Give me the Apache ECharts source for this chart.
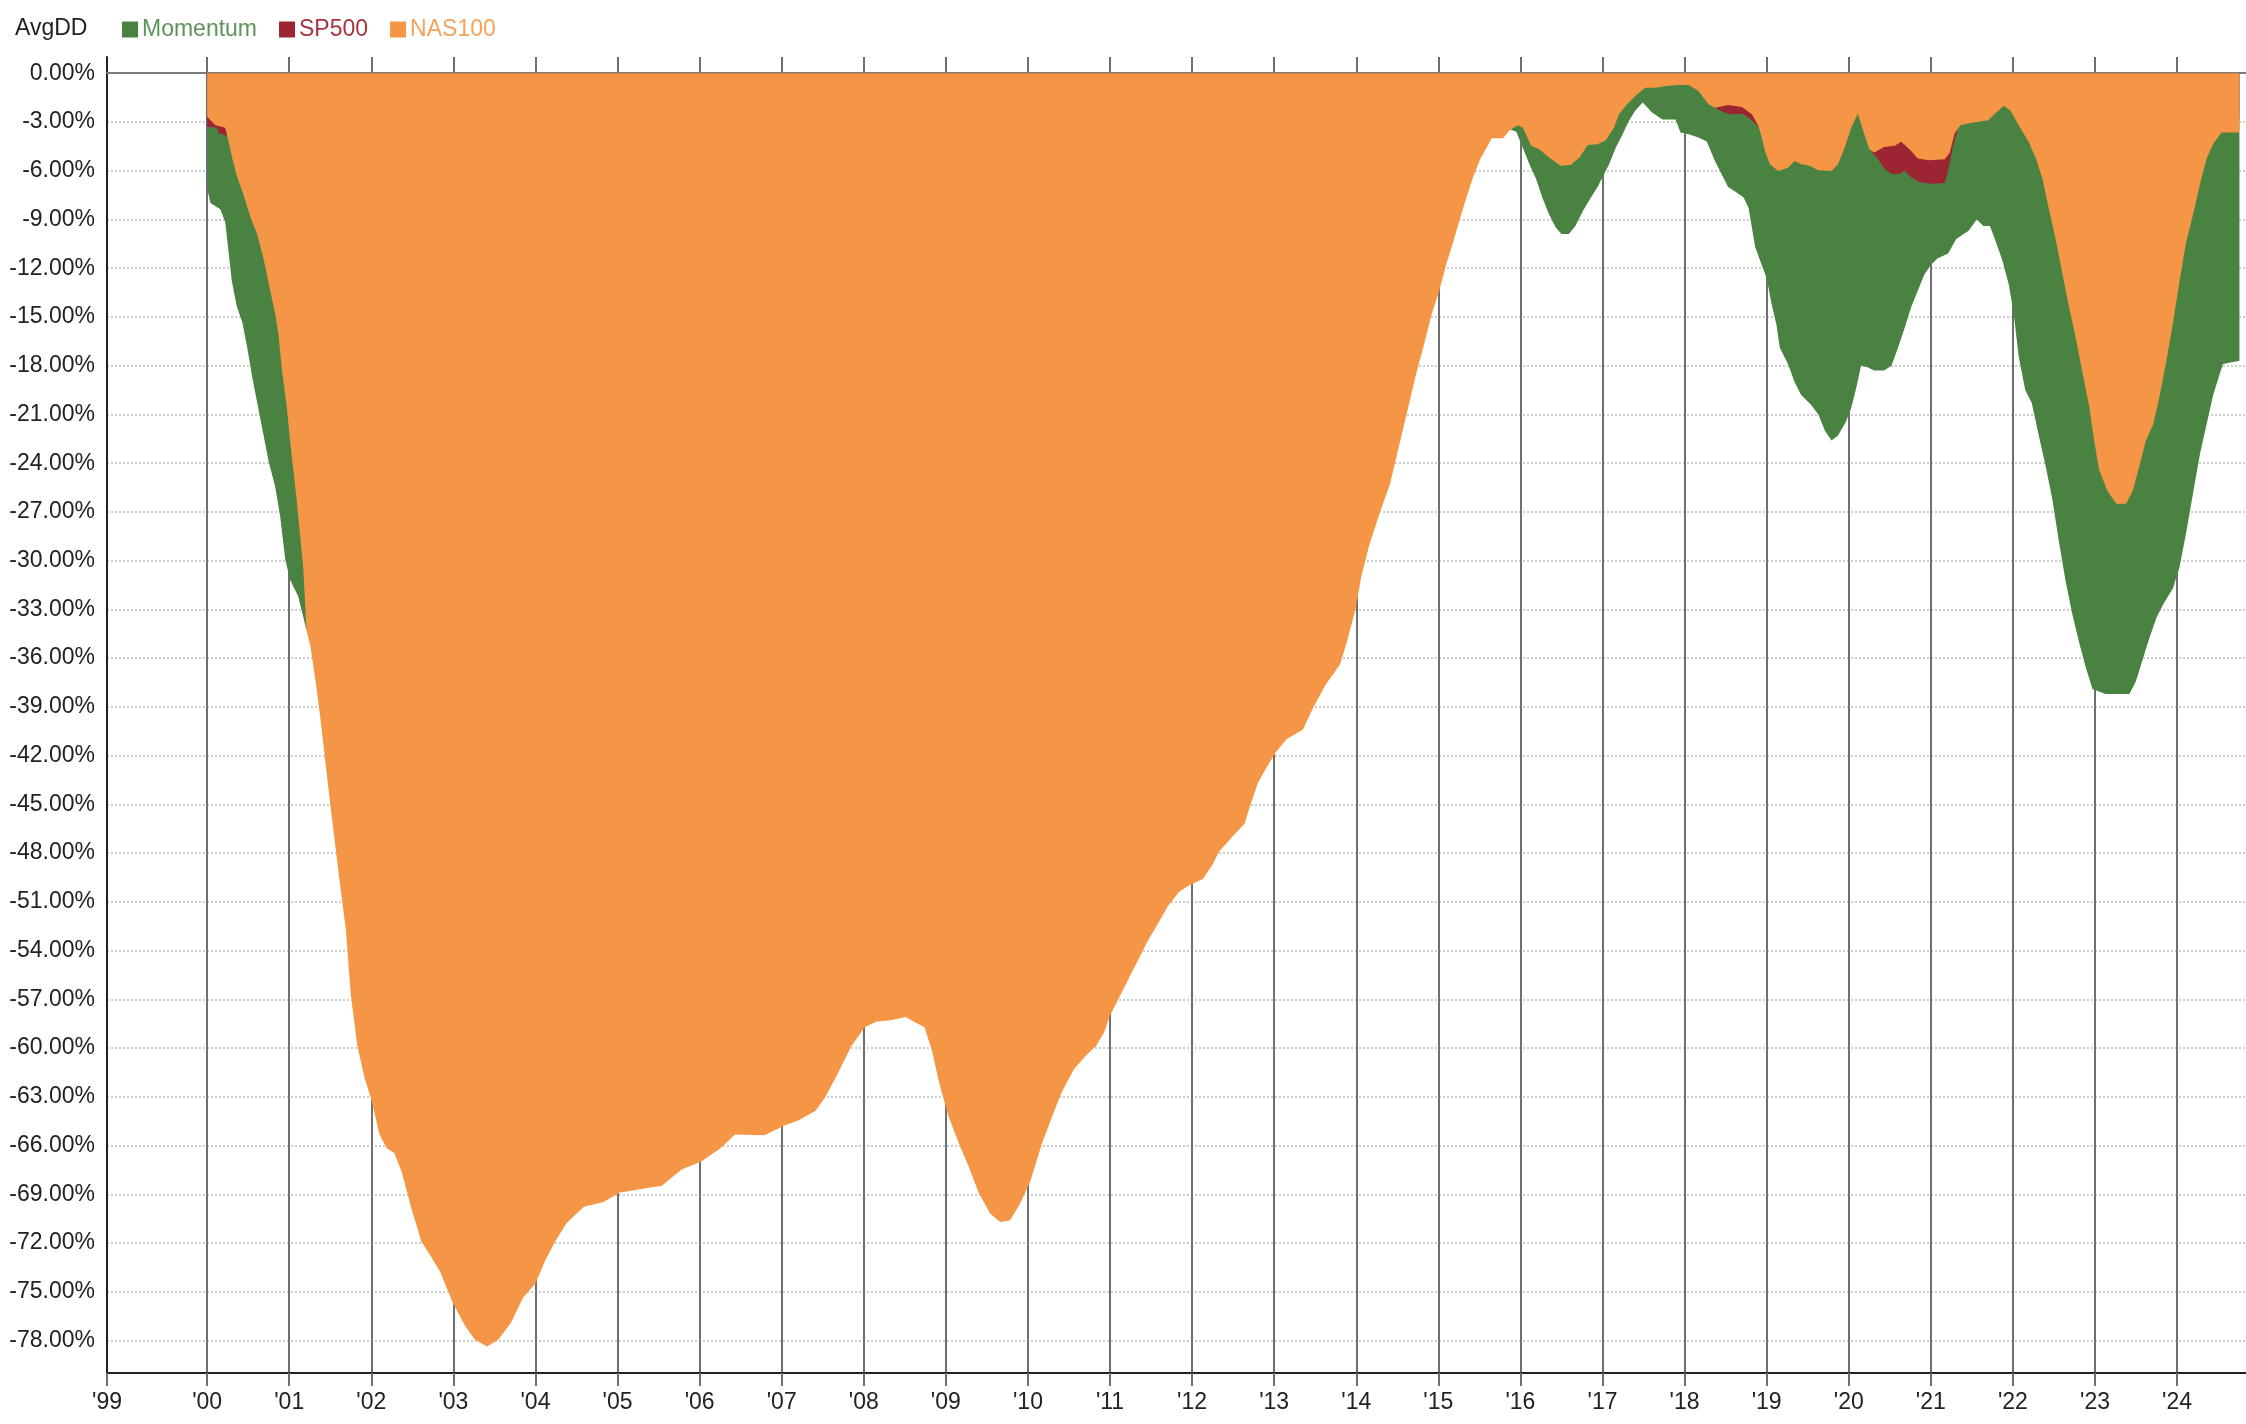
<!DOCTYPE html>
<html>
<head>
<meta charset="utf-8">
<script src="https://cdn.jsdelivr.net/npm/echarts@6/dist/echarts.min.js"></script>
<style>
html,body{margin:0;padding:0;background:#fff;}
#chart{width:2246px;height:1424px;}
</style>
</head>
<body>
<div id="chart"></div>
<script>
// ---- data (decimal year, drawdown %) ----
const seriesNames = ['Momentum', 'SP500', 'NAS100'];
const chartTitle = 'AvgDD';

const momentumData = [
  [2000.00,-7.1],[2000.04,-7.98],[2000.16,-8.37],[2000.22,-9.15],[2000.26,-10.96],[2000.30,-12.77],
  [2000.36,-14.33],[2000.43,-15.36],[2000.49,-16.92],[2000.55,-18.73],[2000.61,-20.28],[2000.67,-21.84],
  [2000.75,-23.91],[2000.83,-25.47],[2000.89,-27.28],[2000.95,-29.87],[2001.01,-31.17],[2001.11,-32.20],
  [2001.21,-34.27],[2001.30,-33.0],[2002.00,-30.0],[2003.00,-28.0],[2005.00,-22.0],[2007.00,-20.0],
  [2008.00,-18.0],[2009.50,-25.0],[2011.00,-15.0],[2012.50,-10.0],[2014.00,-6.0],[2015.00,-4.0],
  [2015.50,-3.0],[2015.75,-3.1],[2015.87,-3.45],[2015.95,-3.6],[2016.03,-4.6],[2016.11,-5.6],
  [2016.19,-6.5],[2016.27,-7.7],[2016.35,-8.7],[2016.43,-9.5],[2016.50,-9.9],[2016.59,-9.9],
  [2016.67,-9.4],[2016.76,-8.5],[2016.84,-7.8],[2016.94,-7.0],[2017.00,-6.4],[2017.08,-5.6],
  [2017.16,-4.6],[2017.24,-3.8],[2017.32,-2.95],[2017.40,-2.3],[2017.49,-1.8],[2017.60,-2.4],
  [2017.73,-2.85],[2017.89,-2.85],[2017.95,-3.65],[2018.05,-3.75],[2018.17,-3.95],[2018.27,-4.2],
  [2018.37,-5.4],[2018.45,-6.2],[2018.53,-7.0],[2018.62,-7.3],[2018.72,-7.65],[2018.78,-8.3],
  [2018.82,-9.5],[2018.86,-10.7],[2018.94,-11.8],[2019.00,-12.6],[2019.06,-14.2],[2019.12,-15.5],
  [2019.16,-16.9],[2019.26,-17.9],[2019.34,-19.0],[2019.42,-19.8],[2019.54,-20.4],[2019.63,-21.0],
  [2019.71,-22.0],[2019.79,-22.6],[2019.87,-22.3],[2019.97,-21.4],[2020.03,-20.6],[2020.09,-19.4],
  [2020.15,-18.0],[2020.23,-18.1],[2020.31,-18.3],[2020.43,-18.3],[2020.52,-18.0],[2020.60,-16.9],
  [2020.68,-15.7],[2020.76,-14.4],[2020.84,-13.4],[2020.92,-12.4],[2021.00,-11.8],[2021.08,-11.4],
  [2021.21,-11.1],[2021.31,-10.2],[2021.46,-9.7],[2021.56,-9.0],[2021.64,-9.4],[2021.72,-9.4],
  [2021.78,-10.2],[2021.87,-11.5],[2021.95,-13.0],[2022.01,-14.8],[2022.07,-17.4],[2022.15,-19.5],
  [2022.23,-20.3],[2022.32,-22.4],[2022.40,-24.2],[2022.48,-26.2],[2022.56,-28.8],[2022.64,-31.2],
  [2022.72,-33.2],[2022.81,-35.1],[2022.89,-36.6],[2022.97,-37.9],[2023.13,-38.2],[2023.42,-38.2],
  [2023.50,-37.4],[2023.58,-36.1],[2023.66,-34.8],[2023.75,-33.5],[2023.83,-32.7],[2023.95,-31.7],
  [2024.03,-30.4],[2024.11,-28.3],[2024.20,-25.7],[2024.28,-23.4],[2024.36,-21.6],[2024.44,-19.8],
  [2024.52,-18.5],[2024.56,-17.9],[2024.76,-17.7]
];

const sp500Data = [
  [2000.00,-3.3],[2000.12,-3.35],[2000.14,-3.7],[2000.22,-3.8],[2000.25,-3.9],[2000.35,-4.5],
  [2000.50,-5.5],[2001.00,-15.0],[2002.00,-30.0],[2003.00,-40.0],[2005.00,-30.0],[2008.00,-20.0],
  [2009.50,-35.0],[2011.00,-15.0],[2013.00,-8.0],[2014.00,-5.0],[2015.00,-3.0],[2015.60,-2.0],
  [2016.50,-3.0],[2017.20,-2.0],[2017.50,-0.6],[2018.00,-0.5],[2018.20,-0.9],[2018.29,-1.7],
  [2018.37,-2.12],[2018.49,-2.43],[2018.57,-2.53],[2018.70,-2.49],[2018.78,-2.73],[2018.86,-3.1],
  [2018.92,-3.4],[2019.10,-4.5],[2019.50,-4.5],[2019.90,-4.0],[2020.03,-2.8],[2020.11,-2.2],
  [2020.19,-3.5],[2020.25,-4.6],[2020.29,-4.9],[2020.35,-5.25],[2020.44,-5.9],[2020.52,-6.2],
  [2020.62,-6.2],[2020.68,-6.0],[2020.76,-6.4],[2020.85,-6.7],[2021.00,-6.8],[2021.17,-6.75],
  [2021.21,-6.0],[2021.27,-4.5],[2021.34,-3.2],[2021.50,-2.8],[2021.78,-2.3],[2021.89,-1.8],
  [2022.07,-2.5],[2022.30,-4.0],[2022.60,-10.0],[2023.00,-18.0],[2023.30,-20.0],[2023.70,-16.0],
  [2024.00,-10.0],[2024.30,-4.0],[2024.50,-2.5],[2024.76,-2.8]
];

const nas100Data = [
  [2000.00,-2.67],[2000.10,-3.2],[2000.22,-3.35],[2000.24,-3.76],[2000.32,-5.52],[2000.36,-6.30],
  [2000.45,-7.59],[2000.53,-8.89],[2000.61,-9.92],[2000.69,-11.48],[2000.77,-13.42],[2000.83,-14.84],
  [2000.87,-16.14],[2000.91,-18.21],[2000.97,-20.54],[2001.01,-22.62],[2001.05,-24.43],[2001.09,-26.24],
  [2001.13,-28.32],[2001.17,-30.39],[2001.21,-34.27],[2001.26,-35.31],[2001.32,-37.38],[2001.38,-39.72],
  [2001.50,-45.0],[2001.63,-50.40],[2001.69,-52.70],[2001.75,-56.71],[2001.83,-59.87],[2001.92,-61.88],
  [2002.00,-63.17],[2002.10,-65.32],[2002.19,-66.18],[2002.28,-66.46],[2002.37,-67.61],[2002.49,-69.91],
  [2002.61,-71.91],[2002.72,-72.77],[2002.84,-73.78],[2002.99,-75.64],[2003.14,-77.07],[2003.26,-77.94],
  [2003.41,-78.37],[2003.55,-77.94],[2003.70,-76.93],[2003.85,-75.35],[2004.00,-74.49],[2004.12,-73.06],
  [2004.24,-71.91],[2004.38,-70.77],[2004.59,-69.76],[2004.83,-69.48],[2005.02,-68.90],[2005.36,-68.61],
  [2005.54,-68.47],[2005.78,-67.47],[2006.02,-66.98],[2006.25,-66.18],[2006.43,-65.32],[2006.79,-65.37],
  [2007.02,-64.80],[2007.20,-64.46],[2007.41,-63.88],[2007.53,-63.02],[2007.68,-61.59],[2007.85,-59.87],
  [2008.01,-58.72],[2008.15,-58.38],[2008.33,-58.29],[2008.51,-58.09],[2008.63,-58.43],[2008.74,-58.72],
  [2008.83,-60.15],[2008.92,-62.16],[2009.03,-64.17],[2009.16,-65.89],[2009.28,-67.32],[2009.40,-68.90],
  [2009.54,-70.19],[2009.66,-70.71],[2009.78,-70.62],[2009.90,-69.62],[2010.03,-68.18],[2010.17,-65.89],
  [2010.32,-63.88],[2010.41,-62.74],[2010.56,-61.30],[2010.71,-60.44],[2010.83,-59.87],[2010.93,-59.01],
  [2011.00,-58.0],[2011.15,-56.5],[2011.30,-55.0],[2011.45,-53.5],[2011.60,-52.2],[2011.70,-51.3],
  [2011.84,-50.4],[2011.96,-50.0],[2012.13,-49.6],[2012.25,-48.7],[2012.33,-47.9],[2012.49,-47.0],
  [2012.64,-46.2],[2012.70,-45.2],[2012.80,-43.7],[2012.90,-42.8],[2013.02,-41.8],[2013.15,-41.0],
  [2013.35,-40.4],[2013.47,-39.1],[2013.63,-37.6],[2013.80,-36.4],[2013.88,-35.1],[2013.99,-33.0],
  [2014.06,-31.0],[2014.16,-29.0],[2014.29,-27.0],[2014.41,-25.3],[2014.49,-23.6],[2014.57,-21.9],
  [2014.65,-20.2],[2014.73,-18.5],[2014.82,-16.8],[2014.92,-14.8],[2015.01,-13.4],[2015.10,-11.7],
  [2015.18,-10.4],[2015.26,-9.0],[2015.34,-7.7],[2015.43,-6.3],[2015.51,-5.3],[2015.65,-4.0],
  [2015.79,-4.0],[2015.87,-3.5],[2015.97,-3.2],[2016.03,-3.35],[2016.13,-4.47],[2016.23,-4.68],
  [2016.35,-5.19],[2016.49,-5.70],[2016.61,-5.64],[2016.72,-5.19],[2016.82,-4.41],[2016.94,-4.37],
  [2017.04,-4.13],[2017.14,-3.35],[2017.20,-2.53],[2017.30,-1.91],[2017.40,-1.40],[2017.52,-0.89],
  [2017.65,-0.89],[2017.77,-0.79],[2017.93,-0.73],[2018.05,-0.73],[2018.17,-1.10],[2018.29,-1.91],
  [2018.37,-2.12],[2018.53,-1.96],[2018.70,-2.08],[2018.82,-2.53],[2018.90,-3.25],[2018.94,-3.96],
  [2018.98,-4.78],[2019.04,-5.60],[2019.14,-6.01],[2019.26,-5.81],[2019.34,-5.40],[2019.42,-5.60],
  [2019.52,-5.70],[2019.63,-5.97],[2019.79,-6.01],[2019.87,-5.60],[2019.95,-4.58],[2020.03,-3.35],
  [2020.11,-2.49],[2020.19,-3.76],[2020.25,-4.68],[2020.31,-4.88],[2020.43,-4.54],[2020.56,-4.47],
  [2020.64,-4.21],[2020.76,-4.78],[2020.84,-5.25],[2020.97,-5.35],[2021.17,-5.3],[2021.23,-4.9],
  [2021.29,-3.7],[2021.36,-3.2],[2021.50,-3.05],[2021.70,-2.9],[2021.78,-2.5],[2021.89,-2.0],
  [2021.97,-2.3],[2022.07,-3.2],[2022.19,-4.2],[2022.28,-5.25],[2022.36,-6.5],[2022.44,-8.4],
  [2022.52,-10.2],[2022.60,-12.25],[2022.68,-14.3],[2022.77,-16.4],[2022.85,-18.5],[2022.93,-20.5],
  [2022.99,-22.6],[2023.05,-24.4],[2023.15,-25.7],[2023.26,-26.5],[2023.38,-26.5],[2023.46,-25.7],
  [2023.54,-24.2],[2023.62,-22.6],[2023.71,-21.6],[2023.79,-19.8],[2023.87,-17.7],[2023.95,-15.4],
  [2024.03,-12.8],[2024.11,-10.4],[2024.20,-8.6],[2024.28,-6.8],[2024.36,-5.25],[2024.44,-4.35],
  [2024.54,-3.65],[2024.76,-3.65]
];

// axis ticks
const xMin = 1998.78, xMax = 2024.84;
const xTickValues = [xMin, 2000, 2001, 2002, 2003, 2004, 2005, 2006, 2007, 2008, 2009, 2010, 2011,
  2012, 2013, 2014, 2015, 2016, 2017, 2018, 2019, 2020, 2021, 2022, 2023, 2024];
const yMin = -80, yMax = 1;
const yTickValues = [0, -3, -6, -9, -12, -15, -18, -21, -24, -27, -30, -33, -36, -39, -42, -45,
  -48, -51, -54, -57, -60, -63, -66, -69, -72, -75, -78];

const colors = ['#4a8242', '#9b2532', '#f49646'];
const legendTextColors = ['#5e935a', '#a8323e', '#f5a25a'];
const FONT = '"Liberation Sans", Arial, sans-serif';

const chart = echarts.init(document.getElementById('chart'), null, {renderer: 'canvas'});
const allData = [momentumData, sp500Data, nas100Data];

chart.setOption({
  animation: false,
  color: colors,
  title: {
    text: chartTitle,
    left: 15, top: 17, padding: 0,
    textStyle: {fontFamily: FONT, fontSize: 23, fontWeight: 'normal', color: '#222'}
  },
  legend: {
    left: 122, top: 18, padding: 0,
    icon: 'rect', itemWidth: 16, itemHeight: 16, itemGap: 22,
    selectedMode: false,
    textStyle: {fontFamily: FONT, fontSize: 23, padding: [0, 0, 0, -1]},
    data: seriesNames.map((n, i) => ({name: n, textStyle: {color: legendTextColors[i]}}))
  },
  grid: {left: 107, right: 0, top: 57, bottom: 51, containLabel: false},
  xAxis: [{
    type: 'value', min: xMin, max: xMax,
    axisLine: {show: true, onZero: false, lineStyle: {color: '#222', width: 2}},
    axisTick: {show: true, length: 13, customValues: xTickValues, lineStyle: {color: '#6f6f6f', width: 2}},
    axisLabel: {
      show: true, customValues: xTickValues, margin: 18,
      fontFamily: FONT, fontSize: 23, color: '#222',
      formatter: v => "'" + String(Math.round(v) % 100).padStart(2, '0')
    },
    splitLine: {show: true, lineStyle: {color: '#6f6f6f', width: 2}}
  }, {
    type: 'value', min: xMin, max: xMax, position: 'top',
    axisLine: {show: true, onZero: true, lineStyle: {color: '#7a7a7a', width: 2}},
    axisTick: {show: false}, axisLabel: {show: false}, splitLine: {show: false}
  }],
  yAxis: {
    type: 'value', min: yMin, max: yMax,
    axisLine: {show: true, onZero: false, lineStyle: {color: '#222', width: 2}},
    axisTick: {show: false, customValues: yTickValues},
    axisLabel: {
      show: true, customValues: yTickValues, margin: 12,
      fontFamily: FONT, fontSize: 23, color: '#222',
      formatter: v => v.toFixed(2) + '%'
    },
    splitLine: {show: true, lineStyle: {color: '#bdbdbd', width: 1.5, type: [2, 2]}}
  },
  series: seriesNames.map((n, i) => ({
    name: n,
    type: 'line',
    xAxisIndex: 0,
    data: allData[i],
    showSymbol: false,
    symbol: 'none',
    smooth: false,
    silent: true,
    lineStyle: {width: 0, opacity: 0, color: colors[i]},
    itemStyle: {color: colors[i]},
    areaStyle: {color: colors[i], opacity: 1},
    emphasis: {disabled: true}
  }))
});
</script>
</body>
</html>
